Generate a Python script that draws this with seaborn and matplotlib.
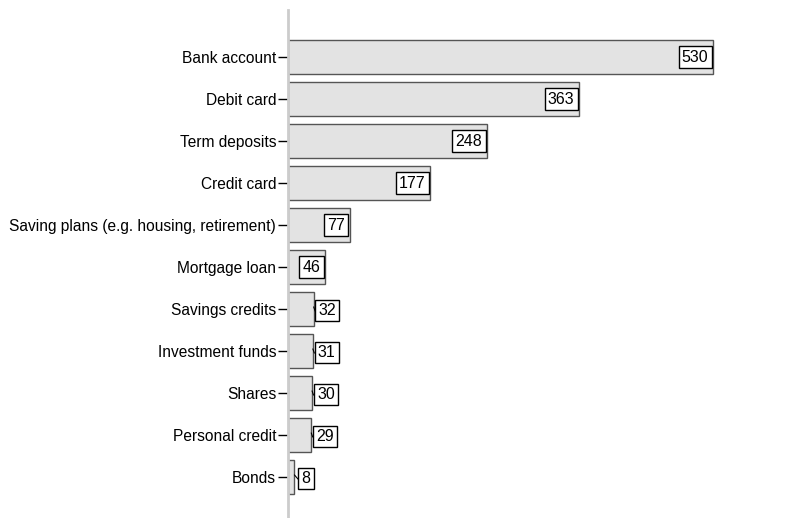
import numpy as np
import pandas as pd
import matplotlib.pyplot as plt
import seaborn as sns

# --- data ---
products = [
    'Bank account', 'Debit card', 'Term deposits', 'Credit card',
    'Saving plans (e.g. housing, retirement)', 'Mortgage loan',
    'Savings credits', 'Investment funds', 'Shares', 'Personal credit', 'Bonds',
]
counts = [530, 363, 248, 177, 77, 46, 32, 31, 30, 29, 8]

df = pd.DataFrame({'Product': products, 'Count': counts})

sns.set_style('white')
plt.rcParams['font.family'] = ['Liberation Sans', 'DejaVu Sans']
plt.rcParams['text.color'] = 'black'
plt.rcParams['ytick.color'] = 'black'
plt.rcParams['ytick.labelcolor'] = 'black'

fig, ax = plt.subplots(figsize=(7.85, 5.18), dpi=100)
fig.subplots_adjust(left=288 / 785, right=761 / 785, top=1 - 10 / 518, bottom=0.0)

sns.barplot(data=df, x='Count', y='Product', orient='h', color='#e3e3e3',
            edgecolor='#555555', linewidth=1.0, width=0.81, saturation=1, ax=ax)

ax.set_xlim(0, 590)
ax.set_ylim(len(products) - 1 + 41 / 42, -47 / 42)

for s in ['top', 'right', 'bottom']:
    ax.spines[s].set_visible(False)
ax.spines['left'].set_color('#cccccc')
ax.spines['left'].set_linewidth(2.0)
ax.spines['left'].set_zorder(5)

ax.set_xticks([])
ax.set_xlabel('')
ax.set_ylabel('')
ax.tick_params(axis='y', direction='out', length=7, width=1, color='black',
               labelsize=11.2, pad=1.5, left=True)

# value labels in boxes
px = 590 / (761 - 288)  # data units per pixel
box = dict(boxstyle='square,pad=0.2', fc='white', ec='black', lw=1.0)
for i, v in enumerate(counts):
    txt = str(v)
    w = (len(txt) * 8.5 + 6) * px
    if w + 8 * px < v:
        ax.text(v - 4.5 * px, i, txt, ha='right', va='center', fontsize=11.5,
                bbox=box, zorder=6)
    else:
        x0 = max(v + 1.5 * px, 12.5)
        ax.plot([v, x0], [i - 0.05, i + 0.05], color='black', lw=0.8, zorder=6)
        ax.text(x0 + 3.5 * px, i + 0.03, txt, ha='left', va='center', fontsize=11.5,
                bbox=box, zorder=6)

plt.savefig('out.png', dpi=100)
